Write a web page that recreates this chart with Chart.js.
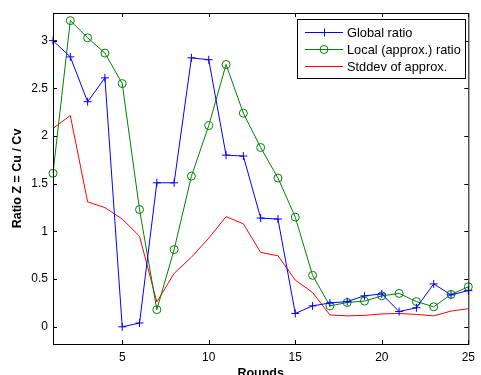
<!DOCTYPE html>
<html>
<head>
<meta charset="utf-8">
<script src="https://cdn.jsdelivr.net/npm/chart.js@4/dist/chart.umd.min.js"></script>
<style>
  html, body { margin: 0; padding: 0; background: #fff; }
  #c { display: block; }
</style>
</head>
<body>
<canvas id="c" width="481" height="375"></canvas>
<script>
const rounds = [1,2,3,4,5,6,7,8,9,10,11,12,13,14,15,16,17,18,19,20,21,22,23,24,25];
const globalRatio = [3.00,2.83,2.36,2.61,0.00,0.04,1.51,1.51,2.82,2.80,1.80,1.79,1.14,1.13,0.14,0.22,0.25,0.265,0.325,0.345,0.16,0.20,0.45,0.335,0.38];
const localRatio = [1.61,3.21,3.03,2.87,2.55,1.23,0.18,0.81,1.58,2.11,2.75,2.24,1.88,1.56,1.15,0.54,0.22,0.255,0.27,0.325,0.35,0.265,0.21,0.34,0.42];
const stddevApprox = [2.08,2.215,1.31,1.25,1.13,0.95,0.26,0.56,0.73,0.93,1.155,1.08,0.78,0.745,0.49,0.36,0.125,0.115,0.12,0.135,0.14,0.13,0.115,0.165,0.19];
const xTicks = [5,10,15,20,25];
const yTicks = [0,0.5,1,1.5,2,2.5,3];
const seriesNames = ['Global ratio','Local (approx.) ratio','Stddev of approx.'];

const FONT = "'Liberation Sans', Arial, sans-serif";

// box, inward ticks and the legend, drawn the way the original axes look
const boxPlugin = {
  id: 'box',
  afterDraw(chart) {
    const { ctx, chartArea: a, scales: { x, y } } = chart;
    ctx.save();
    ctx.strokeStyle = '#000';
    ctx.lineWidth = 1;
    ctx.strokeRect(a.left + 0.5, a.top + 0.5, a.right - a.left, a.bottom - a.top);
    const tl = 4;
    ctx.beginPath();
    xTicks.forEach(v => {
      const px = Math.round(x.getPixelForValue(v)) + 0.5;
      ctx.moveTo(px, a.bottom); ctx.lineTo(px, a.bottom - tl);
      ctx.moveTo(px, a.top); ctx.lineTo(px, a.top + tl);
    });
    yTicks.forEach(v => {
      const py = Math.round(y.getPixelForValue(v)) + 0.5;
      ctx.moveTo(a.left, py); ctx.lineTo(a.left + tl, py);
      ctx.moveTo(a.right, py); ctx.lineTo(a.right - tl, py);
    });
    ctx.stroke();

    // legend
    const lx = 297, ly = 19, lw = 168, lh = 59;
    ctx.fillStyle = '#fff';
    ctx.fillRect(lx, ly, lw, lh);
    ctx.strokeRect(lx + 0.5, ly + 0.5, lw, lh);
    const rowsY = [32, 49, 66];
    chart.data.datasets.forEach((ds, i) => {
      const yy = rowsY[i] + 0.5;
      ctx.strokeStyle = ds.borderColor;
      ctx.beginPath();
      ctx.moveTo(305, yy); ctx.lineTo(343, yy);
      ctx.stroke();
      const mx = 324;
      if (ds.pointStyle === 'cross') {
        ctx.beginPath();
        ctx.moveTo(mx - 4, yy); ctx.lineTo(mx + 4, yy);
        ctx.moveTo(mx + 0.5, yy - 4); ctx.lineTo(mx + 0.5, yy + 4);
        ctx.stroke();
      } else if (ds.pointStyle === 'circle' && ds.pointRadius > 0) {
        ctx.beginPath();
        ctx.arc(mx, yy, 4, 0, Math.PI * 2);
        ctx.stroke();
      }
      ctx.fillStyle = '#000';
      ctx.font = '12.8px ' + FONT;
      ctx.textBaseline = 'middle';
      ctx.textAlign = 'left';
      ctx.fillText(ds.label, 347, yy + 1);
    });
    ctx.restore();
  }
};

new Chart(document.getElementById('c'), {
  type: 'line',
  data: {
    labels: rounds,
    datasets: [
      { label: seriesNames[0], data: globalRatio, borderColor: '#0000ff', pointStyle: 'cross', pointRadius: 4, pointBorderWidth: 1 },
      { label: seriesNames[1], data: localRatio, borderColor: '#008000', pointStyle: 'circle', pointRadius: 4, pointBorderWidth: 1, pointBackgroundColor: 'rgba(0,0,0,0)' },
      { label: seriesNames[2], data: stddevApprox, borderColor: '#ff0000', pointStyle: 'circle', pointRadius: 0 }
    ].map(ds => Object.assign({ borderWidth: 1, tension: 0, fill: false, clip: false, pointHoverRadius: 0 }, ds))
  },
  options: {
    responsive: false,
    animation: false,
    events: [],
    layout: { padding: { top: 13, right: 7, left: 0, bottom: 0 } },
    plugins: { legend: { display: false }, tooltip: { enabled: false } },
    scales: {
      x: {
        type: 'linear',
        min: 1, max: 25,
        grid: { display: false, drawTicks: false },
        border: { display: false },
        afterBuildTicks: s => { s.ticks = xTicks.map(v => ({ value: v })); },
        afterFit: s => { s.height = 31; },
        ticks: { color: '#000', padding: 6, maxRotation: 0, font: { family: FONT, size: 12 }, callback: v => String(v) },
        title: { display: true, text: 'Rounds', color: '#000', font: { family: FONT, size: 12.5, weight: 'bold' }, padding: { top: 0, bottom: -6 } }
      },
      y: {
        type: 'linear',
        min: -0.18, max: 3.29,
        grid: { display: false, drawTicks: false },
        border: { display: false },
        afterBuildTicks: s => { s.ticks = yTicks.map(v => ({ value: v })); },
        afterFit: s => { s.width = 53; },
        ticks: { color: '#000', padding: 5, font: { family: FONT, size: 12 }, callback: v => String(v) },
        title: { display: true, text: 'Ratio Z = Cu / Cv', color: '#000', font: { family: FONT, size: 12.5, weight: 'bold' }, padding: { top: 10, bottom: 0 } }
      }
    }
  },
  plugins: [boxPlugin]
});
</script>
</body>
</html>
